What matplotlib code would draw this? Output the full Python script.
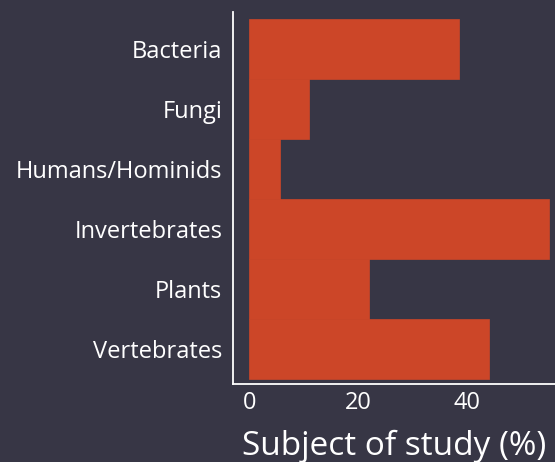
import matplotlib
matplotlib.use('Agg')
import matplotlib.pyplot as plt
import numpy as np

# data
categories = ['Bacteria', 'Fungi', 'Humans/Hominids', 'Invertebrates', 'Plants', 'Vertebrates']
percent = [38.5, 11.0, 5.6, 55.0, 21.9, 43.9]
xticks = [0, 20, 40]

bg = '#373645'
bar_col = '#cc4628'

plt.rcParams['font.family'] = ['Open Sans', 'DejaVu Sans']

fig = plt.figure(figsize=(5.55, 4.62), dpi=100, facecolor=bg)
ax = fig.add_axes([0.4207, 0.1688, 0.5793, 0.8052], facecolor=bg)

y = np.arange(len(categories))[::-1]
ax.barh(y, percent, height=1.0, color=bar_col, edgecolor=bar_col, linewidth=0.5)

ax.set_yticks(y)
ax.set_yticklabels(categories, fontsize=17, color='white')
ax.set_xticks(xticks)
ax.set_xticklabels([str(t) for t in xticks], fontsize=17, color='white')
ax.tick_params(length=0)
ax.tick_params(axis='y', pad=8)
ax.tick_params(axis='x', pad=5)
ax.set_xlim(-2.94, 56.1)
ax.set_ylim(-0.583, 5.617)

for s in ['top', 'right']:
    ax.spines[s].set_visible(False)
for s in ['left', 'bottom']:
    ax.spines[s].set_color('white')
    ax.spines[s].set_linewidth(1.3)

ax.set_xlabel('Subject of study (%)', fontsize=24, color='white', labelpad=11)

fig.savefig('out.png', dpi=100, facecolor=bg)
